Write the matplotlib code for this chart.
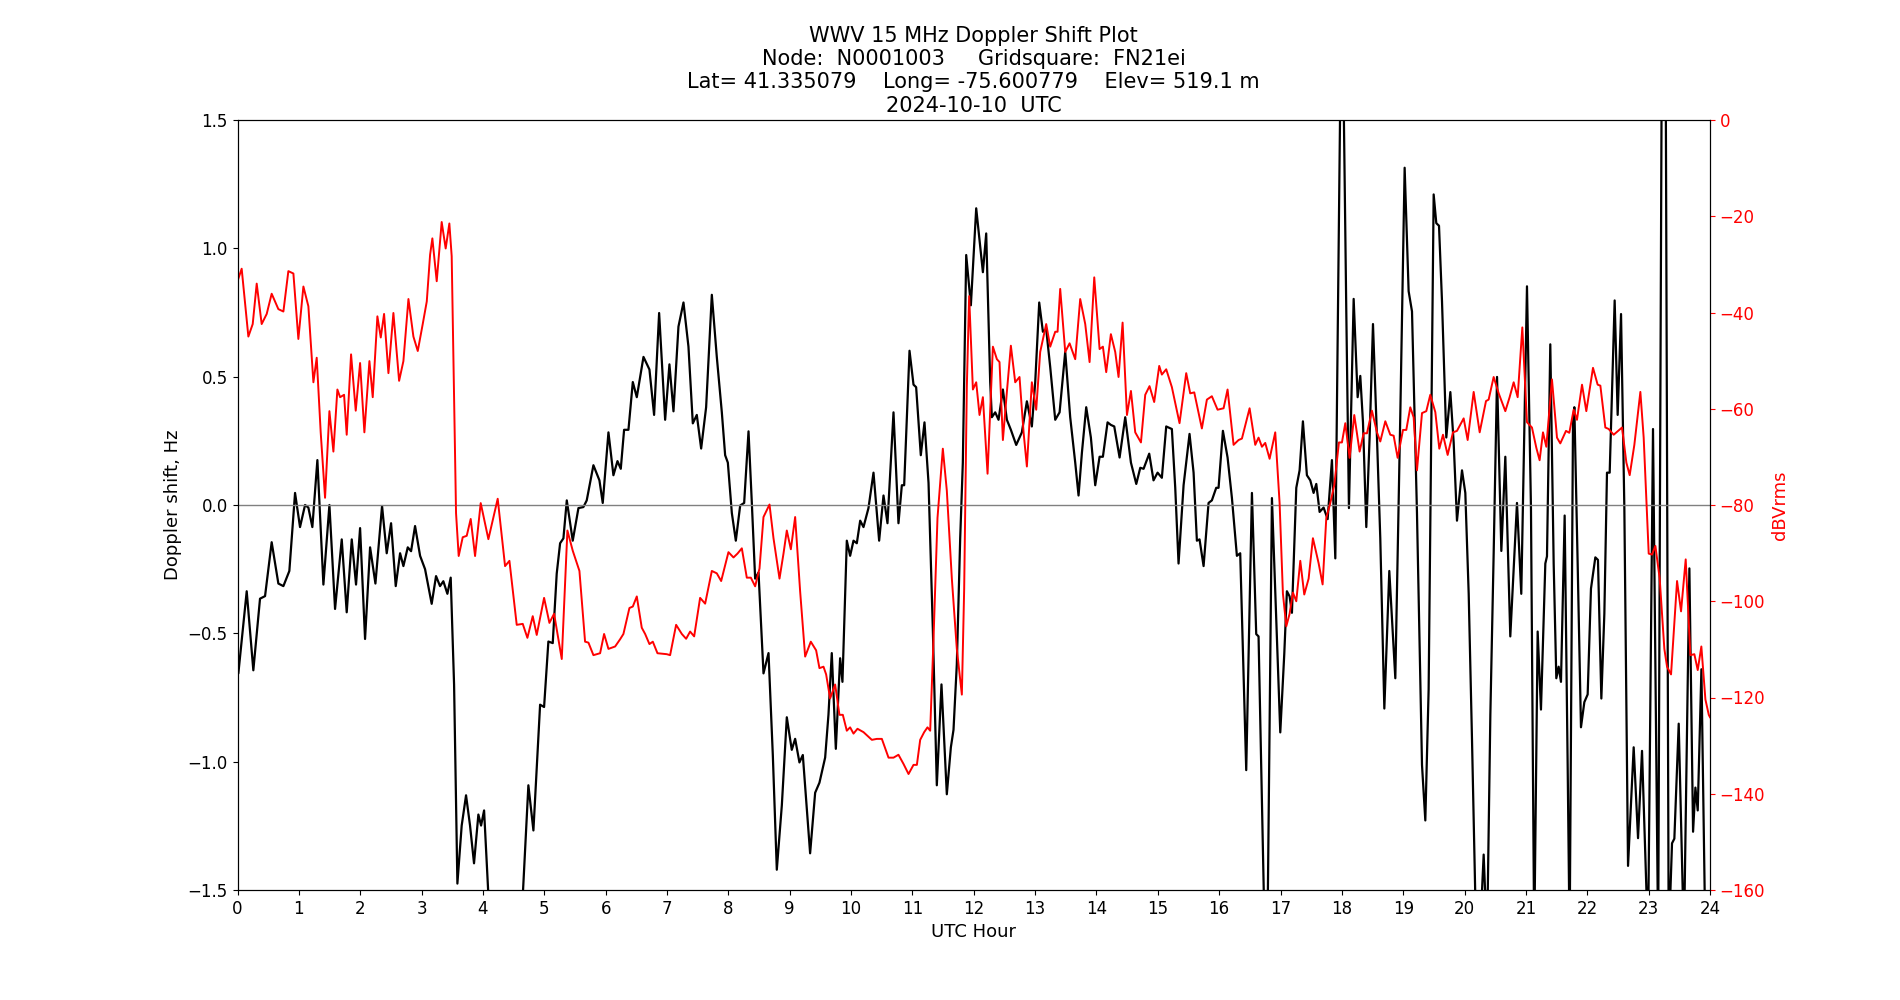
import matplotlib
matplotlib.use("Agg")
import matplotlib.pyplot as plt
import numpy as np

# ---- Doppler shift (black), hours and Hz ----
dop_hours = [
    0.00, 0.014, 0.150, 0.258, 0.367, 0.449, 0.557, 0.666, 0.748, 0.845, 0.938, 1.019, 1.101, 1.155,
    1.220, 1.302, 1.400, 1.498, 1.590, 1.699, 1.780, 1.862, 1.932, 1.998, 2.079, 2.161, 2.248,
    2.356, 2.432, 2.503, 2.579, 2.650, 2.704, 2.775, 2.829, 2.894, 2.976, 3.057, 3.165, 3.236,
    3.301, 3.355, 3.421, 3.475, 3.530, 3.584, 3.654, 3.725, 3.790, 3.855, 3.926, 3.970, 4.019,
    4.089, 4.300, 4.500, 4.650, 4.741, 4.823, 4.932, 4.997, 5.067, 5.138, 5.203, 5.258, 5.312,
    5.367, 5.464, 5.557, 5.638, 5.692, 5.801, 5.899, 5.953, 6.046, 6.127, 6.193, 6.247, 6.301,
    6.372, 6.443, 6.508, 6.617, 6.714, 6.790, 6.872, 6.970, 7.040, 7.106, 7.187, 7.269, 7.350,
    7.421, 7.486, 7.557, 7.638, 7.731, 7.812, 7.894, 7.948, 7.992, 8.057, 8.122, 8.193, 8.258,
    8.329, 8.383, 8.437, 8.492, 8.573, 8.655, 8.725, 8.790, 8.872, 8.953, 9.034, 9.089, 9.159,
    9.214, 9.333, 9.415, 9.485, 9.578, 9.632, 9.686, 9.752, 9.822, 9.860, 9.931, 9.985, 10.040,
    10.094, 10.149, 10.203, 10.284, 10.366, 10.458, 10.529, 10.594, 10.692, 10.773, 10.828,
    10.866, 10.953, 11.018, 11.061, 11.137, 11.197, 11.263, 11.333, 11.398, 11.474, 11.561,
    11.627, 11.670, 11.724, 11.779, 11.822, 11.877, 11.953, 12.040, 12.149, 12.203, 12.268,
    12.295, 12.350, 12.404, 12.475, 12.540, 12.605, 12.692, 12.784, 12.866, 12.947, 13.002,
    13.067, 13.127, 13.181, 13.246, 13.328, 13.399, 13.491, 13.572, 13.654, 13.708, 13.763,
    13.833, 13.909, 13.980, 14.051, 14.105, 14.181, 14.235, 14.290, 14.377, 14.469, 14.562,
    14.649, 14.714, 14.768, 14.860, 14.930, 14.996, 15.066, 15.137, 15.229, 15.284, 15.338,
    15.420, 15.517, 15.583, 15.637, 15.680, 15.746, 15.827, 15.881, 15.952, 15.990, 16.061,
    16.137, 16.208, 16.289, 16.343, 16.441, 16.534, 16.604, 16.642, 16.735, 16.790, 16.860,
    16.996, 17.061, 17.104, 17.148, 17.186, 17.257, 17.311, 17.365, 17.430, 17.485, 17.539,
    17.583, 17.637, 17.702, 17.768, 17.838, 17.893, 17.974, 18.028, 18.072, 18.115, 18.192,
    18.257, 18.300, 18.344, 18.398, 18.452, 18.507, 18.572, 18.626, 18.692, 18.773, 18.871,
    18.953, 19.023, 19.088, 19.143, 19.224, 19.306, 19.360, 19.414, 19.496, 19.539, 19.583,
    19.632, 19.702, 19.768, 19.822, 19.876, 19.958, 20.012, 20.067, 20.121, 20.190, 20.246,
    20.311, 20.366, 20.420, 20.474, 20.529, 20.599, 20.664, 20.745, 20.854, 20.924, 21.017,
    21.082, 21.135, 21.191, 21.245, 21.316, 21.343, 21.397, 21.452, 21.495, 21.533, 21.571,
    21.631, 21.680, 21.712, 21.767, 21.789, 21.843, 21.897, 21.952, 22.006, 22.060, 22.131,
    22.174, 22.229, 22.278, 22.321, 22.365, 22.446, 22.495, 22.550, 22.604, 22.664, 22.756,
    22.827, 22.892, 22.990, 23.071, 23.155, 23.213, 23.278, 23.327, 23.381, 23.419, 23.490,
    23.575, 23.664, 23.724, 23.762, 23.800, 23.860, 23.925, 24.00,
]
dop_hz = [
    -0.66, -0.656, -0.336, -0.644, -0.365, -0.355, -0.145, -0.306, -0.316, -0.257, 0.047, -0.086, 0.000, -0.010,
    -0.086, 0.175, -0.310, 0.000, -0.405, -0.134, -0.418, -0.134, -0.310, -0.090, -0.522, -0.165, -0.306,
    -0.004, -0.188, -0.071, -0.316, -0.188, -0.238, -0.165, -0.180, -0.082, -0.198, -0.250, -0.385, -0.277,
    -0.316, -0.297, -0.346, -0.283, -0.700, -1.475, -1.249, -1.131, -1.249, -1.396, -1.206, -1.249, -1.190,
    -1.520, -2.000, -2.000, -1.520, -1.092, -1.268, -0.778, -0.787, -0.532, -0.538, -0.267, -0.149, -0.130,
    0.018, -0.139, -0.012, -0.008, 0.018, 0.155, 0.096, 0.008, 0.283, 0.116, 0.171, 0.141, 0.293,
    0.293, 0.479, 0.420, 0.577, 0.528, 0.351, 0.748, 0.332, 0.548, 0.365, 0.695, 0.789, 0.617,
    0.318, 0.351, 0.220, 0.381, 0.819, 0.577, 0.361, 0.194, 0.165, -0.031, -0.139, -0.002, 0.008,
    0.287, 0.008, -0.287, -0.263, -0.656, -0.577, -0.974, -1.421, -1.170, -0.827, -0.954, -0.911, -1.003,
    -0.974, -1.357, -1.121, -1.082, -0.984, -0.817, -0.577, -0.950, -0.597, -0.689, -0.139, -0.198, -0.139,
    -0.149, -0.061, -0.086, -0.012, 0.126, -0.139, 0.037, -0.071, 0.361, -0.071, 0.077,
    0.077, 0.601, 0.469, 0.459, 0.194, 0.322, 0.086, -0.483, -1.092, -0.699, -1.127,
    -0.944, -0.876, -0.620, -0.130, 0.165, 0.974, 0.778, 1.156, 0.907, 1.058, 0.479,
    0.342, 0.361, 0.332, 0.450, 0.332, 0.293, 0.234, 0.283, 0.404, 0.306, 0.479,
    0.789, 0.675, 0.685, 0.538, 0.332, 0.361, 0.597, 0.342, 0.165, 0.037, 0.204,
    0.381, 0.263, 0.077, 0.188, 0.188, 0.322, 0.312, 0.306, 0.185, 0.342, 0.165,
    0.082, 0.145, 0.141, 0.200, 0.096, 0.126, 0.106, 0.306, 0.296, 0.067, -0.228,
    0.077, 0.277, 0.126, -0.139, -0.134, -0.238, 0.008, 0.018, 0.067, 0.067, 0.289,
    0.185, 0.027, -0.198, -0.188, -1.033, 0.047, -0.503, -0.512, -1.600, -1.600, 0.027,
    -0.886, -0.581, -0.336, -0.356, -0.420, 0.067, 0.135, 0.326, 0.116, 0.096, 0.047,
    0.082, -0.027, -0.010, -0.055, 0.175, -0.208, 1.600, 1.600, 0.754, -0.012, 0.803,
    0.420, 0.503, 0.322, -0.086, 0.263, 0.705, 0.263, -0.130, -0.793, -0.257, -0.675,
    0.361, 1.314, 0.833, 0.754, -0.031, -1.013, -1.229, -0.719, 1.210, 1.098, 1.088,
    0.793, 0.263, 0.440, 0.244, -0.061, 0.135, 0.047, -0.346, -0.915, -1.700, -1.700,
    -1.362, -1.700, -0.817, -0.188, 0.499, -0.179, 0.188, -0.512, 0.008, -0.346, 0.852,
    -0.012, -1.700, -0.493, -0.797, -0.228, -0.200, 0.626, -0.228, -0.675, -0.630, -0.689,
    -0.041, -1.013, -1.700, 0.322, 0.381, -0.228, -0.866, -0.768, -0.738, -0.326, -0.204,
    -0.214, -0.754, -0.424, 0.126, 0.126, 0.797, 0.351, 0.744, -0.012, -1.406, -0.944,
    -1.298, -0.958, -1.700, 0.296, -1.700, 1.700, 1.700, -1.700, -1.318, -1.300, -0.852,
    -1.700, -0.247, -1.273, -1.101, -1.190, -0.640, -1.700, -1.700,
]

# ---- Signal level (red), hours and dBVrms ----
db_hours = [
    0.00, 0.068, 0.177, 0.248, 0.313, 0.394, 0.476, 0.557, 0.666, 0.748, 0.829, 0.911, 0.992, 1.074,
    1.155, 1.237, 1.291, 1.356, 1.427, 1.498, 1.563, 1.628, 1.672, 1.737, 1.780, 1.851, 1.927,
    1.998, 2.068, 2.150, 2.204, 2.280, 2.335, 2.389, 2.460, 2.541, 2.634, 2.704, 2.786, 2.867,
    2.938, 3.019, 3.085, 3.139, 3.176, 3.247, 3.328, 3.393, 3.453, 3.491, 3.562, 3.605, 3.671,
    3.736, 3.801, 3.872, 3.964, 4.089, 4.241, 4.361, 4.432, 4.551, 4.649, 4.725, 4.812, 4.877,
    4.997, 5.084, 5.160, 5.285, 5.377, 5.464, 5.573, 5.665, 5.720, 5.801, 5.910, 5.975, 6.046,
    6.155, 6.236, 6.290, 6.388, 6.443, 6.508, 6.589, 6.644, 6.714, 6.769, 6.845, 6.997, 7.051,
    7.149, 7.242, 7.312, 7.377, 7.443, 7.540, 7.622, 7.731, 7.812, 7.883, 8.002, 8.084, 8.149,
    8.220, 8.301, 8.367, 8.437, 8.508, 8.573, 8.671, 8.736, 8.834, 8.899, 8.953, 9.019, 9.089,
    9.170, 9.252, 9.344, 9.431, 9.485, 9.551, 9.594, 9.659, 9.741, 9.811, 9.866, 9.931, 9.985,
    10.040, 10.105, 10.203, 10.339, 10.420, 10.502, 10.611, 10.692, 10.773, 10.855, 10.937,
    11.018, 11.073, 11.127, 11.192, 11.246, 11.290, 11.344, 11.409, 11.496, 11.561, 11.643,
    11.724, 11.806, 11.844, 11.887, 11.925, 11.986, 12.040, 12.094, 12.149, 12.225, 12.312,
    12.377, 12.420, 12.475, 12.540, 12.605, 12.676, 12.746, 12.812, 12.866, 12.947, 13.018,
    13.083, 13.181, 13.246, 13.328, 13.366, 13.409, 13.491, 13.562, 13.654, 13.735, 13.817,
    13.888, 13.964, 14.051, 14.105, 14.159, 14.235, 14.306, 14.360, 14.426, 14.497, 14.562,
    14.632, 14.725, 14.795, 14.865, 14.941, 15.023, 15.066, 15.137, 15.229, 15.354, 15.463,
    15.528, 15.594, 15.718, 15.800, 15.881, 15.974, 16.072, 16.137, 16.235, 16.316, 16.371,
    16.496, 16.588, 16.642, 16.697, 16.751, 16.822, 16.914, 16.985, 17.039, 17.094, 17.148,
    17.202, 17.257, 17.322, 17.387, 17.458, 17.528, 17.621, 17.686, 17.746, 17.811, 17.876,
    17.952, 18.001, 18.056, 18.126, 18.202, 18.289, 18.355, 18.409, 18.490, 18.572, 18.626,
    18.708, 18.789, 18.844, 18.909, 18.996, 19.050, 19.115, 19.170, 19.224, 19.306, 19.376,
    19.441, 19.523, 19.588, 19.648, 19.724, 19.811, 19.876, 19.985, 20.050, 20.148, 20.246,
    20.349, 20.392, 20.474, 20.556, 20.664, 20.734, 20.800, 20.865, 20.941, 21.017, 21.098,
    21.169, 21.223, 21.278, 21.332, 21.424, 21.506, 21.560, 21.653, 21.707, 21.778, 21.832,
    21.914, 21.984, 22.093, 22.169, 22.213, 22.294, 22.348, 22.430, 22.566, 22.637, 22.691,
    22.767, 22.865, 22.919, 23.001, 23.055, 23.110, 23.180, 23.256, 23.300, 23.365, 23.463,
    23.528, 23.604, 23.680, 23.745, 23.800, 23.859, 23.925, 23.980, 24.00,
]
db_vals = [
    -33.5, -30.9, -45.0, -42.4, -34.0, -42.4, -40.3, -36.1, -39.3, -39.8, -31.4, -31.9, -45.5, -34.6,
    -38.7, -54.5, -49.4, -64.9, -78.5, -60.5, -68.9, -56.0, -57.6, -57.1, -65.4, -48.7, -60.4,
    -50.5, -64.9, -50.1, -57.6, -40.8, -45.2, -40.3, -52.6, -40.1, -54.2, -50.1, -37.2, -45.0,
    -48.0, -42.4, -37.7, -28.0, -24.6, -33.5, -21.2, -26.7, -21.5, -28.3, -81.7, -90.6, -86.7,
    -86.4, -82.9, -90.6, -79.6, -87.1, -78.7, -92.7, -91.6, -104.9, -104.7, -107.6, -103.1, -107.0,
    -99.3, -104.5, -102.6, -112.0, -85.3, -89.5, -93.7, -108.4, -108.6, -111.2, -110.8, -106.8, -109.9,
    -109.4, -107.9, -106.8, -101.4, -101.1, -99.0, -105.5, -106.8, -108.9, -108.4, -110.8, -111.0, -111.2,
    -104.9, -106.8, -107.8, -106.3, -107.3, -99.3, -100.5, -93.7, -94.2, -95.8, -89.8, -90.9, -90.1,
    -89.0, -95.1, -95.1, -96.9, -93.2, -82.5, -79.9, -86.9, -95.3, -90.1, -85.3, -89.2, -82.5,
    -97.9, -111.5, -108.4, -110.2, -113.9, -113.6, -115.2, -120.2, -117.3, -123.6, -123.6, -126.9, -126.2,
    -127.5, -126.5, -127.2, -128.8, -128.6, -128.6, -132.5, -132.5, -131.9, -133.8, -135.9,
    -134.0, -134.0, -128.8, -127.2, -126.2, -126.9, -107.9, -82.7, -68.3, -77.0, -95.3,
    -109.9, -119.4, -97.4, -55.5, -36.6, -56.0, -54.5, -61.3, -57.6, -73.5, -47.1,
    -49.7, -50.3, -66.5, -56.5, -46.9, -54.5, -53.4, -64.9, -72.0, -54.5, -60.2,
    -48.2, -42.4, -47.1, -44.0, -44.0, -35.1, -48.2, -46.4, -49.7, -37.2, -42.4,
    -50.3, -32.7, -47.6, -47.1, -52.4, -44.5, -48.2, -53.4, -42.1, -61.3, -56.3,
    -64.9, -67.0, -57.1, -55.3, -58.6, -51.1, -52.9, -51.8, -55.5, -63.0, -52.6,
    -56.8, -56.6, -64.1, -58.1, -57.4, -60.2, -59.9, -56.0, -67.5, -66.5, -66.2,
    -59.9, -67.5, -66.0, -67.9, -67.1, -70.4, -64.9, -79.6, -98.4, -105.2, -102.6,
    -98.2, -100.0, -91.6, -98.6, -95.3, -86.9, -92.1, -96.5, -82.7, -79.6, -75.9,
    -67.0, -67.0, -63.0, -70.2, -61.3, -68.9, -65.1, -65.1, -60.4, -64.9, -66.8,
    -62.6, -65.4, -65.6, -70.2, -64.4, -64.4, -59.7, -61.8, -72.8, -60.9, -60.5,
    -57.1, -60.7, -68.3, -65.4, -69.6, -64.9, -64.6, -62.0, -66.5, -56.5, -64.9,
    -58.4, -58.1, -53.4, -56.8, -60.5, -57.6, -54.5, -57.6, -43.1, -62.8, -63.9,
    -68.1, -70.7, -64.9, -67.9, -53.9, -66.0, -67.2, -64.6, -65.0, -60.2, -62.3,
    -55.0, -60.5, -51.5, -55.0, -55.2, -63.9, -64.2, -65.4, -63.9, -71.2, -73.8,
    -67.5, -56.5, -66.0, -90.1, -90.3, -88.5, -95.3, -109.9, -113.6, -115.2, -95.8,
    -102.1, -91.3, -111.2, -111.0, -114.3, -109.4, -120.4, -123.6, -124.1,
]

title_lines = [
    "WWV 15 MHz Doppler Shift Plot",
    "Node:  N0001003     Gridsquare:  FN21ei",
    "Lat= 41.335079    Long= -75.600779    Elev= 519.1 m",
    "2024-10-10  UTC",
]
x_ticks = list(range(0, 25))

fig = plt.figure(figsize=(19, 10), dpi=100)
ax = fig.add_subplot(111)
ax.plot(dop_hours, dop_hz, color="black", linewidth=1.6)
ax.axhline(0, color="gray", linewidth=1.0)
ax.set_xlim(0, 24)
ax.set_ylim(-1.5, 1.5)
ax.set_xticks(x_ticks)
ax.set_xlabel("UTC Hour", fontsize=13)
ax.set_ylabel("Doppler shift, Hz", fontsize=13)
ax.tick_params(labelsize=12)
ax.set_title("\n".join(title_lines), fontsize=15)

ax2 = ax.twinx()
ax2.plot(db_hours, db_vals, color="red", linewidth=1.4)
ax2.set_ylim(-160, 0)
ax2.set_ylabel("dBVrms", color="red", fontsize=13)
ax2.tick_params(axis="y", colors="red", labelsize=12)
ax2.spines["right"].set_color("black")

fig.savefig("out.png", dpi=100)
